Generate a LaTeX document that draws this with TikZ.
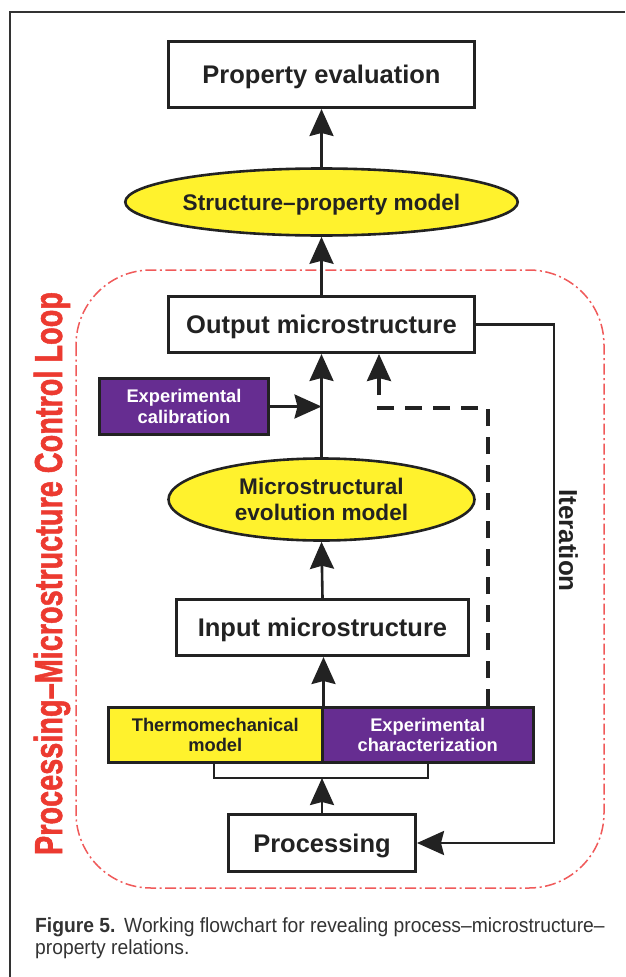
\documentclass[tikz,border=0pt]{standalone}
\usepackage{fontspec}
\setmainfont{Liberation Sans}
\newfontfamily\heavyfont[FakeBold=1.6]{Liberation Sans Bold}
\usepackage{graphicx}
\usetikzlibrary{arrows.meta,shapes.geometric}
\definecolor{ink}{HTML}{222222}
\definecolor{lemon}{HTML}{FFF22D}
\definecolor{violet}{HTML}{662D91}
\definecolor{loopred}{HTML}{EC3A30}
\definecolor{looplinered}{HTML}{F05A5A}
\definecolor{captgray}{HTML}{333333}
\newcommand{\twoln}[2]{\vbox{\halign{\hfil##\hfil\cr#1\cr#2\cr}}}
\tikzset{
  bigfont/.style={font=\fontsize{25.5}{30}\selectfont\bfseries},
  midfont/.style={font=\fontsize{22.6}{26}\selectfont\bfseries},
  smallfont/.style={font=\fontsize{18.3}{20.5}\selectfont\bfseries},
  boxnode/.style={draw=ink, line width=3pt, fill=white, inner sep=0pt, text=ink, text depth=0pt},
  ellnode/.style={ellipse, draw=ink, line width=2.6pt, fill=lemon, inner sep=0pt, text=ink, text depth=0pt},
  conn/.style={draw=ink, line width=2.6pt, -{Stealth[length=27pt,width=24pt,inset=3pt]}},
  plainline/.style={draw=ink, line width=2.6pt},
  dashline/.style={draw=ink, line width=3.4pt, dash pattern=on 17pt off 11pt},
  loopline/.style={draw=looplinered, line width=1.5pt, dash pattern=on 11pt off 3.5pt on 2pt off 3.5pt, rounded corners=75pt},
  framelinestyle/.style={draw=captgray, line width=1.6pt},
  captfont/.style={font=\fontsize{20.5}{22}\selectfont, text=captgray, inner sep=0pt},
}
\begin{document}
\begin{tikzpicture}[x=1pt,y=-1pt]
\useasboundingbox (0,0) rectangle (625,977);
\fill[white] (0,0) rectangle (625,977);
% frame
\draw[framelinestyle] (625,12) -- (10,12) -- (10,977);
% loop
\draw[loopline] (76,270) rectangle (604,888);
\node[rotate=90, anchor=base, inner sep=0pt, text=loopred, font=\fontsize{39}{40}\heavyfont] (looplabel) at (62,573.5) {\resizebox{563pt}{\height}{Processing–Microstructure Control Loop}};
% nodes
\node[boxnode, bigfont, minimum width=306pt, minimum height=66pt] (prop) at (321.5,74.5) {Property evaluation};
\node[ellnode, midfont, minimum width=306pt, minimum height=67pt] (sp) at (321.5,202) {Structure–property model};
\node[boxnode, bigfont, minimum width=306pt, minimum height=56pt] (out) at (321.5,324.5) {Output microstructure};
\node[boxnode, smallfont, fill=violet, text=white, minimum width=169pt, minimum height=56pt] (calib) at (184,406.5) {\twoln{Experimental}{calibration}};
\node[ellnode, midfont, minimum width=306pt, minimum height=82pt] (evo) at (321.5,499.5) {\twoln{Microstructural}{evolution model}};
\node[boxnode, bigfont, minimum width=292pt, minimum height=56pt] (inp) at (322.5,627.5) {Input microstructure};
\node[boxnode, smallfont, fill=lemon, minimum width=213.5pt, minimum height=55pt] (thermo) at (215.25,735) {\twoln{Thermomechanical}{model}};
\node[boxnode, smallfont, fill=violet, text=white, minimum width=211.5pt, minimum height=55pt] (char) at (427.75,735) {\twoln{Experimental}{characterization}};
\node[boxnode, bigfont, minimum width=187pt, minimum height=57pt] (proc) at (322,843) {Processing};
\node[rotate=-90, anchor=base, inner sep=0pt, text=ink, font=\fontsize{26}{30}\selectfont\bfseries] (iterlabel) at (559,540.5) {Iteration};
% helper coordinates
\coordinate (itx) at (554,0);
\coordinate (dA) at (488,408);
\coordinate (dB) at (379,408);
\coordinate (bl) at (214,778);
\coordinate (br) at (428,778);
% connectors
\draw[conn] (sp.north) -- (prop.south);
\draw[conn] (out.north) -- (sp.south);
\draw[conn] (evo.north) -- (out.south);
\draw[conn] (calib.east) -- (calib.east -| evo.north);
\draw[conn] (inp.north) -- (evo.south);
\draw[conn] (thermo.north east) -- (thermo.north east |- inp.south);
\draw[plainline] (bl |- thermo.south) -- (bl) -- (br) -- (br |- thermo.south);
\draw[conn] (proc.north) -- (proc.north |- bl);
\draw[conn] (out.east) -- (out.east -| itx) -- (proc.east -| itx) -- (proc.east);
\draw[dashline, -{Stealth[length=27pt,width=24pt,inset=3pt]}] (char.north -| dA) -- (dA) -- (dB) -- (dB |- out.south);
% caption
\node[captfont, anchor=base west] (cap1) at (35,932) {\scalebox{0.94}[1]{\textbf{Figure 5.}\hspace{0.45em}Working flowchart for revealing process–microstructure–}};
\node[captfont, anchor=base west] (cap2) at (35,954) {\scalebox{0.94}[1]{property relations.}};
\end{tikzpicture}
\end{document}
